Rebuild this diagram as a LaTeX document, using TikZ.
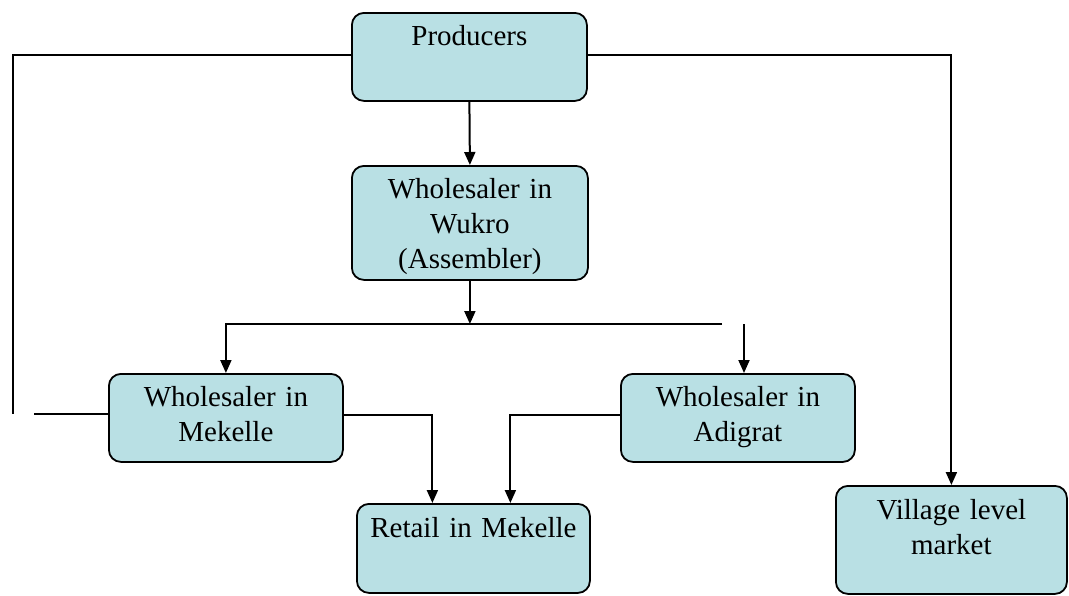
\documentclass[tikz,border=0pt]{standalone}
\usepackage{fontspec}
\setmainfont{Liberation Serif}
\usetikzlibrary{arrows.meta}
\definecolor{boxfill}{RGB}{185,224,228}
\tikzset{
    stage/.style={draw, line width=1.8pt, rounded corners=12pt, fill=boxfill,
                  inner sep=0pt, align=center, anchor=north west,
                  font=\fontsize{29}{35}\selectfont},
    flow/.style={line width=2pt, -{Triangle[length=13pt,width=11pt]}},
    link/.style={line width=1.6pt}
}

\begin{document}
\begin{tikzpicture}[x=1pt, y=-1pt]
            \useasboundingbox (0,0) rectangle (1069,595);

            % Boxes:
            \node[stage, text width=235pt, text height=33pt, text depth=55pt] (producers) at (351,12) {Producers};
            \node[stage, text width=236pt, text height=33pt, text depth=81pt] (wukro) at (351,165) {Wholesaler in\\Wukro\\(Assembler)};
            \node[stage, text width=234pt, text height=33pt, text depth=55pt] (mekelle) at (108,373) {Wholesaler in\\Mekelle};
            \node[stage, text width=234pt, text height=33pt, text depth=55pt] (adigrat) at (620,373) {Wholesaler in\\Adigrat};
            \node[stage, text width=233pt, text height=34pt, text depth=55pt] (retail) at (356,503) {Retail in Mekelle};
            \node[stage, text width=231pt, text height=34pt, text depth=74pt] (village) at (835,485) {Village level\\market};

            % Loose ends:
            \coordinate (leftdrop) at (13,414);
            \coordinate (lefttail) at (34,414);
            \coordinate (split) at (wukro.south |- 0,324);
            \coordinate (splitend) at (722,324);
            \coordinate (adigratdrop) at (744,324);

            % Connectors:
            \draw[link] ([yshift=2pt]producers.west) -| (leftdrop);
            \draw[link] (lefttail) -- (lefttail -| mekelle.west);
            \draw[flow] ([yshift=2pt]producers.east) -| (village.north);
            \draw[flow] (producers.south) -- (wukro.north);
            \draw[flow] (wukro.south) -- (split);
            \draw[flow] (splitend) -| (mekelle.north);
            \draw[flow] (adigratdrop) -- (adigratdrop |- adigrat.north);
            \draw[flow] ([yshift=3pt]mekelle.east) -| ([xshift=-41pt]retail.north);
            \draw[flow] ([yshift=3pt]adigrat.west) -| ([xshift=37pt]retail.north);
        \end{tikzpicture}
\end{document}
